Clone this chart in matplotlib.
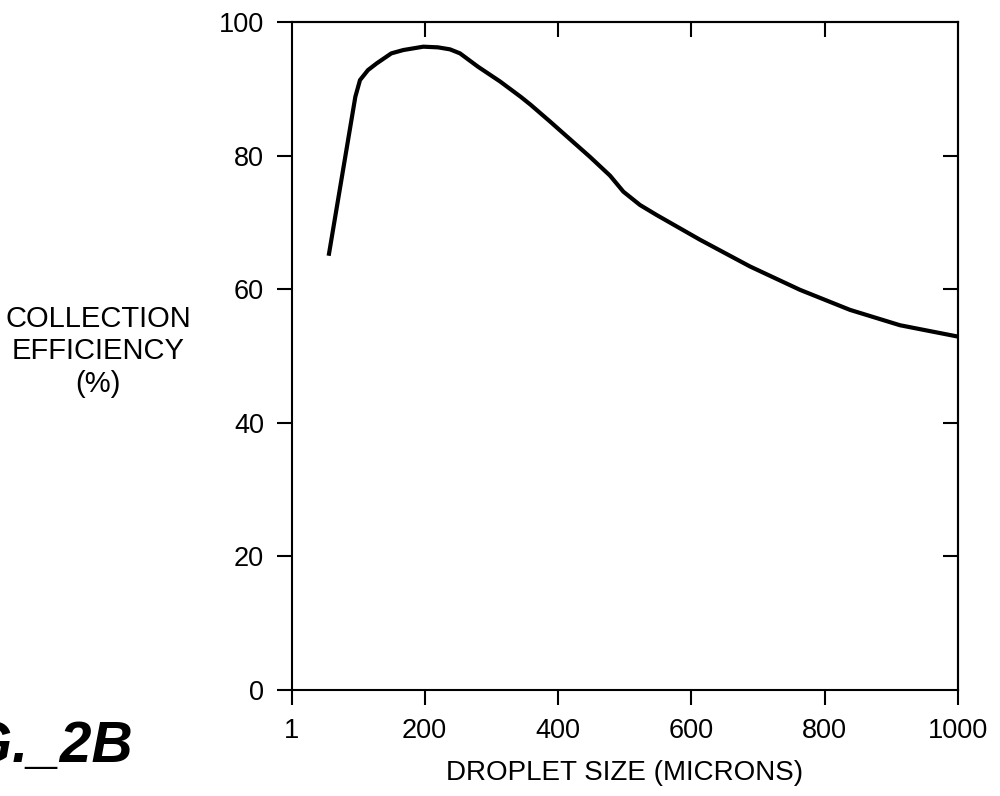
import matplotlib
matplotlib.use("Agg")
import matplotlib.pyplot as plt

plt.rcParams["font.family"] = ["Liberation Sans", "DejaVu Sans"]

# droplet size (microns) vs collection efficiency (%)
droplet_size = [56, 96, 103, 115, 128, 150, 168, 198, 220, 238, 253, 280,
                313, 344, 359, 388, 448, 478, 498, 523, 548, 613, 688, 763,
                838, 913, 1000]
efficiency = [65.0, 88.8, 91.3, 92.8, 93.8, 95.3, 95.8, 96.3, 96.2, 95.9,
              95.3, 93.3, 91.1, 88.8, 87.6, 85.1, 79.8, 77.0, 74.6, 72.6,
              71.1, 67.4, 63.4, 59.9, 56.9, 54.6, 52.9]

x_ticks = [1, 200, 400, 600, 800, 1000]
y_ticks = [0, 20, 40, 60, 80, 100]

fig = plt.figure(figsize=(10, 7.96), dpi=100)
ax = fig.add_axes([0.292, 0.1332, 0.666, 0.8392])

ax.plot(droplet_size, efficiency, color="black", linewidth=3.0,
        solid_capstyle="butt", solid_joinstyle="round")
ax.set_xlim(1, 1000)
ax.set_ylim(0, 100)
ax.set_xticks(x_ticks)
ax.set_yticks(y_ticks)
ax.tick_params(axis="both", direction="out", length=11, width=1.5,
               labelsize=19.5, pad=9)
for s in ax.spines.values():
    s.set_linewidth(1.5)

# inward ticks on top and right
top = ax.secondary_xaxis("top")
top.set_xticks(x_ticks[1:-1])
top.tick_params(direction="in", length=11, width=1.5, labeltop=False)
top.spines["top"].set_linewidth(1.5)
right = ax.secondary_yaxis("right")
right.set_yticks(y_ticks[1:-1])
right.tick_params(direction="in", length=11, width=1.5, labelright=False)
right.spines["right"].set_linewidth(1.5)

ax.set_xlabel("DROPLET SIZE (MICRONS)", fontsize=20, labelpad=12)
ax.set_ylabel("COLLECTION\nEFFICIENCY\n(%)", fontsize=21, rotation=0,
              ha="center", va="center", linespacing=1.2)
ax.yaxis.set_label_coords(-0.291, 0.507)

fig.text(0.133, 1 - 762 / 796, "FIG._2B", ha="right", va="baseline",
         fontsize=41, weight="bold", style="italic")

plt.savefig("out.png", dpi=100)
plt.close()
